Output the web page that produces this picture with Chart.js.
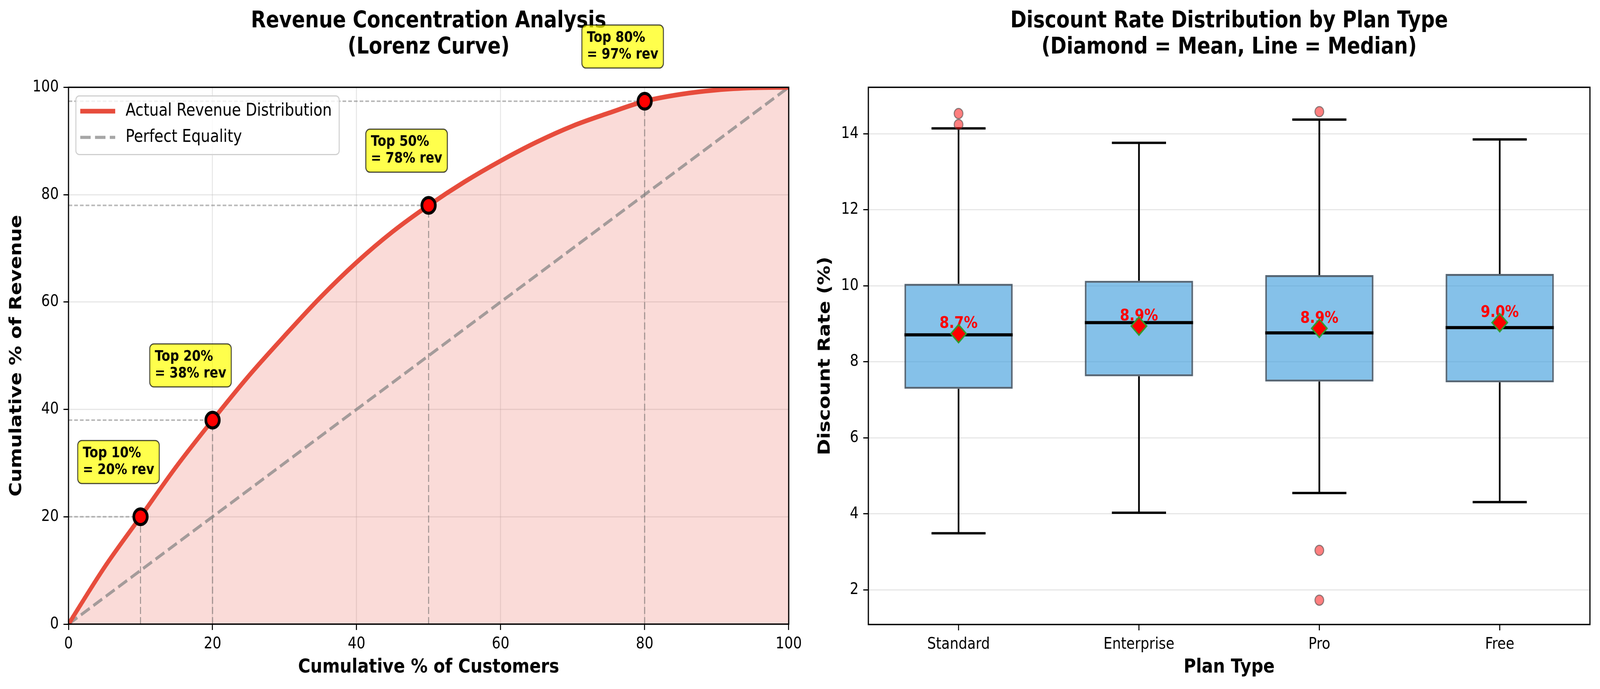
<!DOCTYPE html>
<html>
<head>
<meta charset="utf-8">
<title>Revenue concentration and discount rates</title>
<script src="https://cdn.jsdelivr.net/npm/chart.js@4.4.1/dist/chart.umd.min.js"></script>
<style>
  html, body { margin: 0; padding: 0; background: #fff; overflow: hidden; }
  #wrap { position: relative; width: 100vw; height: 100vh; }
  canvas { position: absolute; top: 0; }
</style>
</head>
<body>
<div id="wrap">
  <canvas id="lorenzChart" width="2400" height="1763" style="left: 0; width: 50.3778vw; height: 100vh;"></canvas>
  <canvas id="discountChart" width="2364" height="1763" style="left: 50.3778vw; width: 49.6222vw; height: 100vh;"></canvas>
</div>
<script>
// Lorenz curve
const customerPct = [0, 5, 10, 15, 20, 25, 30, 35, 40, 45, 50, 55, 60, 65, 70, 75, 80, 85, 90, 95, 100];
const revenuePct = [0, 10.6, 20.0, 29.4, 38.0, 46.2, 53.7, 60.9, 67.4, 73.1, 78.0, 82.4, 86.3, 89.8, 92.8, 95.2, 97.4, 98.7, 99.5, 99.9, 100];
const equalityPct = [0, 100];
const markerCustomers = [10, 20, 50, 80];
const markerNotes = [
    ['Top 10%', '= 20% rev'],
    ['Top 20%', '= 38% rev'],
    ['Top 50%', '= 78% rev'],
    ['Top 80%', '= 97% rev']
];
const lorenzTicks = [0, 20, 40, 60, 80, 100];

// Discount rate box plots, one entry per plan
const planTypes = ['Standard', 'Enterprise', 'Pro', 'Free'];
const whiskerLow = [3.49, 4.03, 4.55, 4.31];
const q1 = [7.29, 7.62, 7.48, 7.46];
const medians = [8.71, 9.03, 8.76, 8.90];
const q3 = [10.05, 10.13, 10.28, 10.31];
const whiskerHigh = [14.14, 13.76, 14.37, 13.85];
const means = [8.74, 8.94, 8.88, 9.03];
const outlierPlan = [0, 0, 2, 2, 2];
const outlierValue = [14.53, 14.24, 14.58, 3.04, 1.73];
const discountTicks = [2, 4, 6, 8, 10, 12, 14];
const discountRange = [1.09, 15.22];

Chart.defaults.font.family = "'DejaVu Sans', sans-serif";
Chart.defaults.color = '#000';

const gridColor = 'rgba(176, 176, 176, 0.3)';
const fontStack = "'DejaVu Sans', sans-serif";
const markerRevenue = markerCustomers.map(c => revenuePct[customerPct.indexOf(c)]);

function drawFrame(chart) {
    const { ctx, chartArea: a } = chart;
    ctx.save();
    ctx.strokeStyle = '#000';
    ctx.lineWidth = 3.5;
    ctx.strokeRect(a.left, a.top, a.right - a.left, a.bottom - a.top);
    ctx.restore();
}

// ---------- left: Lorenz curve ----------
const guideLines = [];
markerCustomers.forEach((c, i) => {
    guideLines.push({
        data: [{ x: 0, y: markerRevenue[i] }, { x: c, y: markerRevenue[i] }],
        borderColor: 'rgba(128, 128, 128, 0.55)',
        borderWidth: 4,
        borderDash: [11, 6],
        pointRadius: 0,
        fill: false,
        order: 3
    });
    guideLines.push({
        data: [{ x: c, y: 0 }, { x: c, y: markerRevenue[i] }],
        borderColor: 'rgba(100, 100, 100, 0.6)',
        borderWidth: 3,
        borderDash: [18, 8],
        pointRadius: 0,
        fill: false,
        order: 3
    });
});

const lorenzExtras = {
    id: 'lorenzExtras',
    afterDatasetsDraw(chart) {
        const { ctx, chartArea: a, scales } = chart;
        drawFrame(chart);

        // yellow notes next to each marker
        ctx.save();
        ctx.font = `bold 37px ${fontStack}`;
        ctx.textBaseline = 'middle';
        ctx.textAlign = 'left';
        markerCustomers.forEach((c, i) => {
            const px = scales.x.getPixelForValue(c);
            const py = scales.y.getPixelForValue(markerRevenue[i]);
            const lines = markerNotes[i];
            const w = Math.max(...lines.map(t => ctx.measureText(t).width)) + 30;
            const h = 110;
            const bx = px - 187;
            const by = py - 195;
            ctx.beginPath();
            ctx.roundRect(bx, by, w, h, 12);
            ctx.fillStyle = 'rgba(255, 255, 0, 0.7)';
            ctx.fill();
            ctx.strokeStyle = 'rgba(0, 0, 0, 0.7)';
            ctx.lineWidth = 3;
            ctx.stroke();
            ctx.fillStyle = '#000';
            lines.forEach((t, k) => ctx.fillText(t, bx + 15, by + 33 + k * 43));
        });
        ctx.restore();

        // legend, upper left inside the plot
        ctx.save();
        ctx.font = `44px ${fontStack}`;
        const labels = ['Actual Revenue Distribution', 'Perfect Equality'];
        const lx = a.left + 22;
        const ly = a.top + 22;
        const lw = ctx.measureText(labels[0]).width + 170;
        ctx.beginPath();
        ctx.roundRect(lx, ly, lw, 150, 10);
        ctx.fillStyle = 'rgba(255, 255, 255, 0.8)';
        ctx.fill();
        ctx.strokeStyle = '#d0d0d0';
        ctx.lineWidth = 3;
        ctx.stroke();

        ctx.lineCap = 'butt';
        ctx.beginPath();
        ctx.moveTo(lx + 13, ly + 39);
        ctx.lineTo(lx + 117, ly + 39);
        ctx.strokeStyle = '#E74C3C';
        ctx.lineWidth = 12;
        ctx.stroke();

        ctx.beginPath();
        ctx.setLineDash([31, 13]);
        ctx.moveTo(lx + 13, ly + 106);
        ctx.lineTo(lx + 117, ly + 106);
        ctx.strokeStyle = 'rgba(128, 128, 128, 0.7)';
        ctx.lineWidth = 8;
        ctx.stroke();
        ctx.setLineDash([]);

        ctx.fillStyle = '#000';
        ctx.textBaseline = 'middle';
        ctx.textAlign = 'left';
        ctx.fillText(labels[0], lx + 148, ly + 39);
        ctx.fillText(labels[1], lx + 148, ly + 106);
        ctx.restore();
    }
};

new Chart(document.getElementById('lorenzChart'), {
    type: 'line',
    data: {
        datasets: [
            {
                label: 'Markers',
                data: markerCustomers.map((c, i) => ({ x: c, y: markerRevenue[i] })),
                showLine: false,
                pointRadius: 20,
                pointBorderWidth: 8,
                pointBackgroundColor: '#ff0000',
                pointBorderColor: '#000',
                order: 0
            },
            {
                label: 'Actual Revenue Distribution',
                data: customerPct.map((c, i) => ({ x: c, y: revenuePct[i] })),
                borderColor: '#E74C3C',
                borderWidth: 12,
                backgroundColor: 'rgba(231, 76, 60, 0.2)',
                fill: 'origin',
                pointRadius: 0,
                cubicInterpolationMode: 'monotone',
                order: 1
            },
            {
                label: 'Perfect Equality',
                data: equalityPct.map(v => ({ x: v, y: v })),
                borderColor: 'rgba(128, 128, 128, 0.7)',
                borderWidth: 8,
                borderDash: [31, 13],
                pointRadius: 0,
                fill: false,
                order: 2
            },
            ...guideLines
        ]
    },
    options: {
        responsive: false,
        animation: false,
        devicePixelRatio: 1,
        events: [],
        layout: { padding: { right: 50 } },
        plugins: {
            legend: { display: false },
            tooltip: { enabled: false },
            filler: { drawTime: 'beforeDatasetsDraw' },
            title: {
                display: true,
                fullSize: false,
                text: ['Revenue Concentration Analysis', '(Lorenz Curve)'],
                font: { size: 58, weight: 'bold', lineHeight: 1.15 },
                color: '#000',
                padding: { top: 22, bottom: 68 }
            }
        },
        scales: {
            x: {
                type: 'linear',
                min: 0,
                max: 100,
                afterBuildTicks: s => { s.ticks = lorenzTicks.map(v => ({ value: v })); },
                afterFit: s => { s.height = 166; },
                ticks: { font: { size: 41 }, padding: 12, autoSkip: false, maxRotation: 0 },
                grid: { color: gridColor, lineWidth: 3, tickColor: '#000', tickWidth: 3, tickLength: 15 },
                border: { display: false },
                title: {
                    display: true,
                    text: 'Cumulative % of Customers',
                    font: { size: 50, weight: 'bold' },
                    padding: { top: 0, bottom: 25 }
                }
            },
            y: {
                type: 'linear',
                min: 0,
                max: 100,
                afterBuildTicks: s => { s.ticks = lorenzTicks.map(v => ({ value: v })); },
                afterFit: s => { s.width = 204; },
                ticks: { font: { size: 41 }, padding: 14 },
                grid: { color: gridColor, lineWidth: 3, tickColor: '#000', tickWidth: 3, tickLength: 15 },
                border: { display: false },
                title: {
                    display: true,
                    text: 'Cumulative % of Revenue',
                    font: { size: 50, weight: 'bold' },
                    padding: { top: 20, bottom: 0 }
                }
            }
        }
    },
    plugins: [lorenzExtras]
});

// ---------- right: discount rate box plots ----------
const whiskerPoints = [];
const capPoints = [];
const medianPoints = [];
planTypes.forEach((_, i) => {
    whiskerPoints.push(
        { x: i, y: whiskerLow[i] }, { x: i, y: q1[i] }, { x: i, y: null },
        { x: i, y: q3[i] }, { x: i, y: whiskerHigh[i] }, { x: i, y: null }
    );
    capPoints.push(
        { x: i - 0.15, y: whiskerLow[i] }, { x: i + 0.15, y: whiskerLow[i] }, { x: i, y: null },
        { x: i - 0.15, y: whiskerHigh[i] }, { x: i + 0.15, y: whiskerHigh[i] }, { x: i, y: null }
    );
    medianPoints.push({ x: i - 0.3, y: medians[i] }, { x: i + 0.3, y: medians[i] }, { x: i, y: null });
});

const boxExtras = {
    id: 'boxExtras',
    beforeDatasetDraw(chart, args) {
        // mean labels go under the diamonds, so draw them just before that dataset
        if (args.index !== 0) return;
        const { ctx, scales } = chart;
        ctx.save();
        ctx.font = `bold 41px ${fontStack}`;
        ctx.fillStyle = '#ff0000';
        ctx.textAlign = 'center';
        ctx.textBaseline = 'middle';
        means.forEach((m, i) => {
            ctx.fillText(m.toFixed(1) + '%', scales.x.getPixelForValue(i), scales.y.getPixelForValue(m) - 25);
        });
        ctx.restore();
    },
    afterDatasetsDraw(chart) {
        drawFrame(chart);
    }
};

new Chart(document.getElementById('discountChart'), {
    type: 'bar',
    data: {
        datasets: [
            {
                type: 'line',
                label: 'Mean',
                data: means.map((m, i) => ({ x: i, y: m })),
                showLine: false,
                pointStyle: 'rectRot',
                pointRadius: 23,
                pointBorderWidth: 4,
                pointBackgroundColor: '#ff0000',
                pointBorderColor: '#2e9e2e',
                order: 0
            },
            {
                type: 'line',
                label: 'Median',
                data: medianPoints,
                borderColor: '#000',
                borderWidth: 8,
                borderCapStyle: 'butt',
                pointRadius: 0,
                fill: false,
                order: 1
            },
            {
                type: 'line',
                label: 'Outliers',
                data: outlierPlan.map((p, k) => ({ x: p, y: outlierValue[k] })),
                showLine: false,
                pointRadius: 13,
                pointBorderWidth: 3,
                pointBackgroundColor: 'rgba(255, 0, 0, 0.5)',
                pointBorderColor: 'rgba(70, 70, 70, 0.6)',
                order: 2
            },
            {
                type: 'line',
                label: 'Caps',
                data: capPoints,
                borderColor: '#000',
                borderWidth: 6,
                borderCapStyle: 'butt',
                pointRadius: 0,
                fill: false,
                order: 3
            },
            {
                type: 'line',
                label: 'Whiskers',
                data: whiskerPoints,
                borderColor: '#000',
                borderWidth: 5,
                borderCapStyle: 'butt',
                pointRadius: 0,
                fill: false,
                order: 4
            },
            {
                type: 'bar',
                label: 'IQR',
                data: planTypes.map((_, i) => ({ x: i, y: [q1[i], q3[i]] })),
                backgroundColor: 'rgba(52, 152, 219, 0.6)',
                borderColor: 'rgba(44, 62, 80, 0.8)',
                borderWidth: 5,
                borderSkipped: false,
                barPercentage: 0.6,
                categoryPercentage: 1.0,
                order: 5
            }
        ]
    },
    options: {
        responsive: false,
        animation: false,
        devicePixelRatio: 1,
        events: [],
        layout: { padding: { right: 30 } },
        plugins: {
            legend: { display: false },
            tooltip: { enabled: false },
            title: {
                display: true,
                fullSize: false,
                text: ['Discount Rate Distribution by Plan Type', '(Diamond = Mean, Line = Median)'],
                font: { size: 58, weight: 'bold', lineHeight: 1.15 },
                color: '#000',
                padding: { top: 22, bottom: 68 }
            }
        },
        scales: {
            x: {
                type: 'linear',
                min: -0.5,
                max: 3.5,
                offset: false,
                afterBuildTicks: s => { s.ticks = planTypes.map((_, i) => ({ value: i })); },
                afterFit: s => { s.height = 165; },
                ticks: { callback: v => planTypes[v], font: { size: 41 }, padding: 12, autoSkip: false, maxRotation: 0 },
                grid: { offset: false, drawOnChartArea: false, tickColor: '#000', tickWidth: 3, tickLength: 15 },
                border: { display: false },
                title: {
                    display: true,
                    text: 'Plan Type',
                    font: { size: 50, weight: 'bold' },
                    padding: { top: 0, bottom: 25 }
                }
            },
            y: {
                type: 'linear',
                min: discountRange[0],
                max: discountRange[1],
                afterBuildTicks: s => { s.ticks = discountTicks.map(v => ({ value: v })); },
                afterFit: s => { s.width = 186; },
                ticks: { font: { size: 41 }, padding: 14 },
                grid: { color: gridColor, lineWidth: 3, tickColor: '#000', tickWidth: 3, tickLength: 15 },
                border: { display: false },
                title: {
                    display: true,
                    text: 'Discount Rate (%)',
                    font: { size: 50, weight: 'bold' },
                    padding: { top: 28, bottom: 0 }
                }
            }
        }
    },
    plugins: [boxExtras]
});
</script>
</body>
</html>
